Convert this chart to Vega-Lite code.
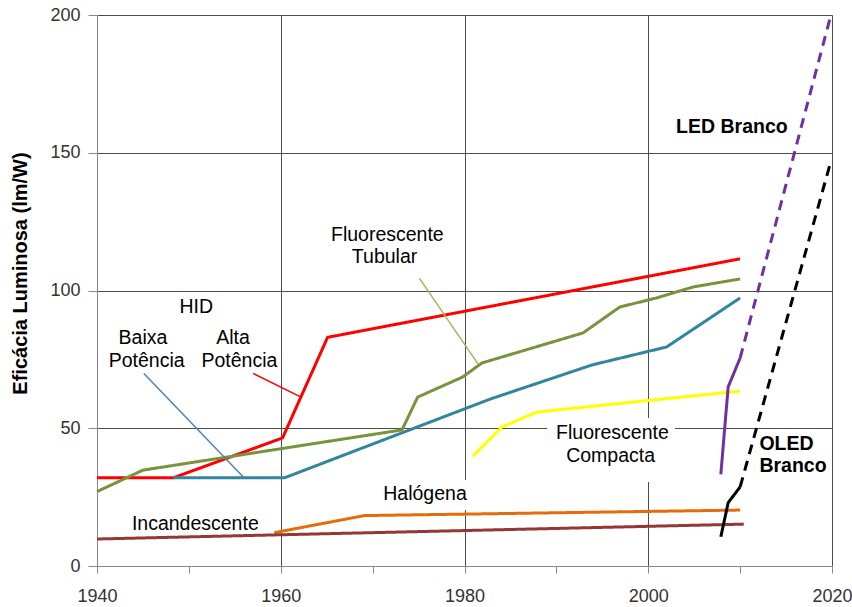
{
  "$schema": "https://vega.github.io/schema/vega-lite/v6.json",
  "width": 735,
  "height": 551,
  "autosize": "none",
  "padding": {"left": 97, "top": 15, "right": 20, "bottom": 41},
  "background": "white",
  "config": {"view": {"stroke": null}, "font": "Liberation Sans"},
  "datasets": {
    "boxes": [
      {"x": 1989.0, "x2": 2002.9, "y": 30.5, "y2": 53.7},
      {"x": 1970.8, "x2": 1980.6, "y": 20.3, "y2": 31.2}
    ],
    "lines": [
      {"s": "Alta", "d": "solid", "x": 1940, "y": 32},
      {"s": "Alta", "d": "solid", "x": 1948.3, "y": 32},
      {"s": "Alta", "d": "solid", "x": 1960.2, "y": 46.5},
      {"s": "Alta", "d": "solid", "x": 1965.1, "y": 83},
      {"s": "Alta", "d": "solid", "x": 2010, "y": 111.5},
      {"s": "Baixa", "d": "solid", "x": 1948.3, "y": 32},
      {"s": "Baixa", "d": "solid", "x": 1960.4, "y": 32},
      {"s": "Baixa", "d": "solid", "x": 1982.8, "y": 60.6},
      {"s": "Baixa", "d": "solid", "x": 1993.9, "y": 73},
      {"s": "Baixa", "d": "solid", "x": 2002.0, "y": 79.5},
      {"s": "Baixa", "d": "solid", "x": 2010, "y": 97.3},
      {"s": "Tubular", "d": "solid", "x": 1940, "y": 27},
      {"s": "Tubular", "d": "solid", "x": 1945, "y": 34.8},
      {"s": "Tubular", "d": "solid", "x": 1973.2, "y": 49.4},
      {"s": "Tubular", "d": "solid", "x": 1974.9, "y": 61.3},
      {"s": "Tubular", "d": "solid", "x": 1979.8, "y": 68.6},
      {"s": "Tubular", "d": "solid", "x": 1981.9, "y": 73.7},
      {"s": "Tubular", "d": "solid", "x": 1992.9, "y": 84.6},
      {"s": "Tubular", "d": "solid", "x": 1996.9, "y": 94},
      {"s": "Tubular", "d": "solid", "x": 2000.9, "y": 97.3},
      {"s": "Tubular", "d": "solid", "x": 2004.9, "y": 101.3},
      {"s": "Tubular", "d": "solid", "x": 2010, "y": 104.2},
      {"s": "Compacta", "d": "solid", "x": 1980.9, "y": 39.9},
      {"s": "Compacta", "d": "solid", "x": 1984.1, "y": 50.5},
      {"s": "Compacta", "d": "solid", "x": 1987.9, "y": 55.9},
      {"s": "Compacta", "d": "solid", "x": 2010, "y": 63.5},
      {"s": "Halogena", "d": "solid", "x": 1959.3, "y": 12.1},
      {"s": "Halogena", "d": "solid", "x": 1969.1, "y": 18.3},
      {"s": "Halogena", "d": "solid", "x": 2010, "y": 20.3},
      {"s": "Incand", "d": "solid", "x": 1940, "y": 9.8},
      {"s": "Incand", "d": "solid", "x": 2010.4, "y": 15.2},
      {"s": "LED", "d": "solid", "x": 2007.9, "y": 33.3},
      {"s": "LED", "d": "solid", "x": 2008.7, "y": 65},
      {"s": "LED", "d": "solid", "x": 2010, "y": 75.5},
      {"s": "LED", "d": "dashed", "x": 2010, "y": 75.5},
      {"s": "LED", "d": "dashed", "x": 2019.8, "y": 199},
      {"s": "OLED", "d": "solid", "x": 2007.9, "y": 10.6},
      {"s": "OLED", "d": "solid", "x": 2008.7, "y": 23},
      {"s": "OLED", "d": "solid", "x": 2010, "y": 28.7},
      {"s": "OLED", "d": "dashed", "x": 2010, "y": 28.7},
      {"s": "OLED", "d": "dashed", "x": 2019.8, "y": 146}
    ],
    "leaders": [
      {"s": "L_baixa", "x": 1945.1, "y": 69.9, "x2": 1955.9, "y2": 32.4},
      {"s": "L_alta", "x": 1957.0, "y": 69.9, "x2": 1962.1, "y2": 61.5},
      {"s": "L_tub", "x": 1975.1, "y": 104.4, "x2": 1981.5, "y2": 73.2}
    ],
    "labels": [
      {"t": "HID", "x": 1950.8, "y": 94.0},
      {"t": "Baixa", "x": 1945.0, "y": 82.6},
      {"t": "Potência", "x": 1945.4, "y": 74.4},
      {"t": "Alta", "x": 1954.8, "y": 82.6},
      {"t": "Potência", "x": 1955.5, "y": 74.4},
      {"t": "Fluorescente", "x": 1971.6, "y": 120.1},
      {"t": "Tubular", "x": 1971.3, "y": 112.2},
      {"t": "Fluorescente", "x": 1996.1, "y": 48.3},
      {"t": "Compacta", "x": 1995.9, "y": 39.9},
      {"t": "Halógena", "x": 1975.7, "y": 26.1},
      {"t": "Incandescente", "x": 1950.7, "y": 15.2}
    ],
    "boldc": [
      {"t": "LED Branco", "x": 2009.1, "y": 159.3}
    ],
    "boldl": [
      {"t": "OLED", "x": 2012.1, "y": 44.3},
      {"t": "Branco", "x": 2012.1, "y": 36.3}
    ]
  },
  "encoding": {
    "x": {
      "field": "x",
      "type": "quantitative",
      "scale": {"domain": [1940, 2020], "nice": false, "zero": false},
      "axis": {
        "title": null,
        "values": [1940, 1950, 1960, 1970, 1980, 1990, 2000, 2010, 2020],
        "format": "d",
        "labelExpr": "datum.value % 20 === 0 ? datum.label : ''",
        "labelFlush": false,
        "labelOverlap": false,
        "labelFontSize": 18,
        "labelColor": "#333333",
        "labelPadding": 14,
        "tickSize": 7,
        "tickColor": "#888888",
        "domainColor": "#888888",
        "grid": true,
        "gridColor": "#4d4d4d",
        "gridOpacity": {"condition": {"test": "datum.value % 20 === 0 && datum.value > 1940", "value": 1}, "value": 0}
      }
    },
    "y": {
      "field": "y",
      "type": "quantitative",
      "scale": {"domain": [0, 200], "nice": false},
      "axis": {
        "title": "Eficácia Luminosa (lm/W)",
        "values": [0, 50, 100, 150, 200],
        "labelFlush": false,
        "labelOverlap": false,
        "labelFontSize": 18,
        "labelColor": "#333333",
        "labelPadding": 8,
        "tickSize": 9,
        "tickColor": "#888888",
        "domainColor": "#888888",
        "grid": true,
        "gridColor": "#4d4d4d",
        "gridOpacity": {"condition": {"test": "datum.value > 0", "value": 1}, "value": 0},
        "titleFontSize": 20,
        "titleFontWeight": "bold",
        "titleColor": "#000000",
        "titleAngle": -90,
        "titleAlign": "center",
        "titleBaseline": "middle",
        "titleX": -77,
        "titleY": 258
      }
    }
  },
  "layer": [
    {
      "data": {"name": "boxes"},
      "mark": {"type": "rect", "color": "white"},
      "encoding": {"x2": {"field": "x2"}, "y2": {"field": "y2"}}
    },
    {
      "data": {"name": "lines"},
      "mark": {"type": "line", "strokeWidth": 3, "strokeJoin": "round"},
      "encoding": {
        "color": {
          "field": "s",
          "type": "nominal",
          "legend": null,
          "scale": {
            "domain": ["Alta", "Baixa", "Tubular", "Compacta", "Halogena", "Incand", "LED", "OLED", "L_baixa", "L_alta", "L_tub"],
            "range": ["#ff0000", "#31859c", "#77933c", "#ffff00", "#e46c0a", "#953735", "#7030a0", "#000000", "#4f81bd", "#ff0000", "#9bbb59"]
          }
        },
        "strokeDash": {
          "field": "d",
          "type": "nominal",
          "legend": null,
          "scale": {"domain": ["solid", "dashed"], "range": [[1, 0], [10, 7]]}
        }
      }
    },
    {
      "data": {"name": "leaders"},
      "mark": {"type": "rule", "strokeWidth": 1.5},
      "encoding": {
        "x2": {"field": "x2"},
        "y2": {"field": "y2"},
        "color": {"field": "s", "type": "nominal", "legend": null}
      }
    },
    {
      "data": {"name": "labels"},
      "mark": {"type": "text", "fontSize": 19.5, "color": "#000000", "align": "center", "baseline": "middle"},
      "encoding": {"text": {"field": "t"}}
    },
    {
      "data": {"name": "boldc"},
      "mark": {"type": "text", "fontSize": 19.5, "fontWeight": "bold", "color": "#000000", "align": "center", "baseline": "middle"},
      "encoding": {"text": {"field": "t"}}
    },
    {
      "data": {"name": "boldl"},
      "mark": {"type": "text", "fontSize": 19.5, "fontWeight": "bold", "color": "#000000", "align": "left", "baseline": "middle"},
      "encoding": {"text": {"field": "t"}}
    }
  ]
}
